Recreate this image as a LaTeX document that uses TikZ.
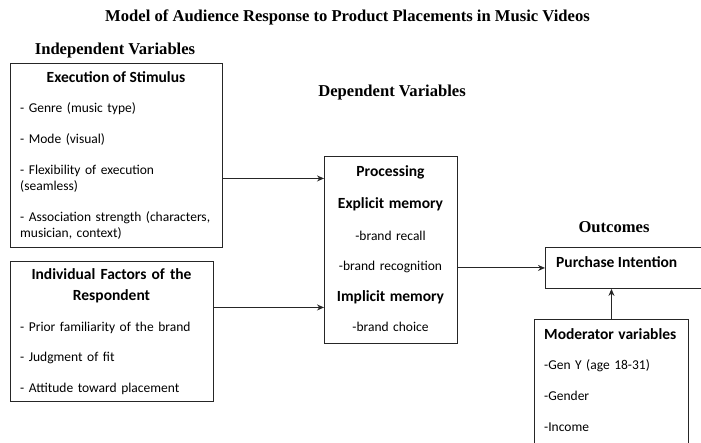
\documentclass[tikz,border=0pt]{standalone}
\usepackage{fontspec}
\usetikzlibrary{arrows.meta}
\newfontfamily\bodyfont{Carlito}
\newfontfamily\headfont{Liberation Serif}

\tikzset{
  panel/.style = {rectangle, draw=black!85, line width=0.9pt, anchor=north west, inner sep=0pt},
  heading/.style = {font=\headfont\bfseries\fontsize{16.6}{19}\selectfont, anchor=base, inner sep=0pt},
  boxhead/.style = {font=\bodyfont\bfseries\fontsize{15.5}{16}\selectfont, anchor=base, inner sep=0pt, align=center},
  boxlist/.style = {font=\bodyfont\fontsize{13.5}{16}\selectfont, anchor=base west, inner sep=0pt, align=left, text width=200pt},
  arrow/.style = {line width=0.9pt, draw=black!85, -{Stealth[length=7pt,width=6pt]}}
}

\begin{document}
\begin{tikzpicture}[x=1pt, y=-1pt]
\useasboundingbox (0,0) rectangle (701,443);

% titles
\node (title) [heading] at (347.5,22) {Model of Audience Response to Product Placements in Music Videos};
\node (indep) [heading] at (115,55) {Independent Variables};
\node (dep) [heading] at (392,97) {Dependent Variables};
\node (outc) [heading] at (614,233) {Outcomes};

% independent variables
\node (stim) [panel, minimum width=212pt, minimum height=184pt] at (10,63) {};
\node (stimhead) [boxhead] at (116,83) {Execution of Stimulus};
\node (stimlist) [boxlist] at (20,113) {- Genre (music type)\\[15pt]
  - Mode (visual)\\[15pt]
  - Flexibility of execution\\ (seamless)\\[15pt]
  - Association strength (characters,\\ musician, context)};

\node (resp) [panel, minimum width=203pt, minimum height=140pt] at (10,261) {};
\node (resphead) [boxhead, text width=195pt] at (111.5,280) {Individual Factors of the\\[5pt] Respondent};
\node (resplist) [boxlist] at (20,331) {- Prior familiarity of the brand\\[15pt]
  - Judgment of fit\\[15pt]
  - Attitude toward placement};

% dependent variables
\node (proc) [panel, minimum width=133pt, minimum height=187pt] at (324,156) {};
\node (proctxt) [boxlist, anchor=base, align=center, text width=132pt] at (390.5,177) {\textbf{\fontsize{15.5}{16}\selectfont Processing}\\[16pt]
  \textbf{\fontsize{15.5}{16}\selectfont Explicit memory}\\[16pt]
  -brand recall\\[14pt]
  -brand recognition\\[15pt]
  \textbf{\fontsize{15.5}{16}\selectfont Implicit memory}\\[14pt]
  -brand choice};

\node (purch) [panel, minimum width=160pt, minimum height=41pt] at (545,247) {};
\node (purchtxt) [boxhead, anchor=base west] at (556,268) {Purchase Intention};

\node (moder) [panel, minimum width=154pt, minimum height=140pt] at (534,319) {};
\node (modertxt) [boxlist, text width=150pt] at (544,340) {\textbf{\fontsize{15.5}{16}\selectfont Moderator variables}\\[14pt]
  -Gen Y (age 18-31)\\[15pt]
  -Gender\\[15pt]
  -Income};

% connectors
\coordinate (s1) at ([yshift=-23pt]stim.east);
\coordinate (r1) at ([yshift=24pt]resp.east);
\coordinate (p1) at ([yshift=-18pt]proc.east);
\draw [arrow] (s1) -- (s1 -| proc.west);
\draw [arrow] (r1) -- (r1 -| proc.west);
\draw [arrow] (p1) -- (p1 -| purch.west);
\draw [arrow] (moder.north) -- (moder.north |- purch.south);

\end{tikzpicture}
\end{document}
